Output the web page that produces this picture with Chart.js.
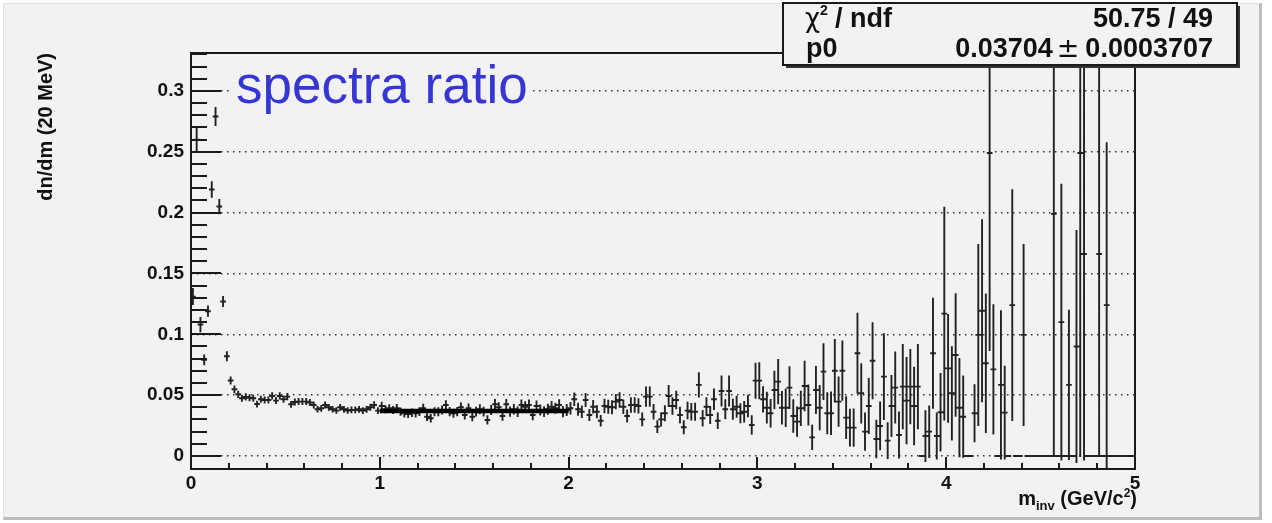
<!DOCTYPE html>
<html>
<head>
<meta charset="utf-8">
<title>spectra ratio</title>
<script src="https://cdn.jsdelivr.net/npm/chart.js@4.4.1/dist/chart.umd.min.js"></script>
<style>
  html, body { margin: 0; padding: 0; background: #ffffff; }
  #pad {
    position: absolute; left: 3px; top: 3px; width: 1259px; height: 517px; box-sizing: border-box;
    background: #f2f2f2; border-top: 1px solid #e0e0e0; border-left: 1px solid #e0e0e0;
    border-right: 3px solid #bcbcbc; border-bottom: 3px solid #bcbcbc;
  }
  #ratio { position: absolute; left: 0; top: 0; }
</style>
</head>
<body>
<div id="pad"></div>
<canvas id="ratio" width="1272" height="523"></canvas>
<script>
// 20 MeV bins from 0 to 5 GeV/c^2
const binStart = 0;
const binWidth = 0.02;

const ratio0to1 = [
  0.131, 0.26, 0.108, 0.079, 0.119, 0.219, 0.279, 0.205, 0.127, 0.082,
  0.062, 0.0548, 0.0507, 0.0474, 0.0485, 0.0479, 0.0474, 0.0427, 0.0466, 0.046,
  0.046, 0.0493, 0.0455, 0.0493, 0.0466, 0.0488, 0.0425, 0.0444, 0.0447, 0.0447,
  0.0447, 0.044, 0.0419, 0.0384, 0.0392, 0.0419, 0.04, 0.0384, 0.0373, 0.04,
  0.0384, 0.0373, 0.0378, 0.0378, 0.0384, 0.0373, 0.0384, 0.04, 0.0419, 0.0373
];
const err0to1 = [
  0.0062, 0.0103, 0.0055, 0.0037, 0.0038, 0.006, 0.0071, 0.0055, 0.0038, 0.0033,
  0.0025, 0.0024, 0.0022, 0.0021, 0.0022, 0.0021, 0.0021, 0.002, 0.0021, 0.0021,
  0.0021, 0.0022, 0.0021, 0.0022, 0.0021, 0.0022, 0.002, 0.0021, 0.0021, 0.0021,
  0.0021, 0.0021, 0.002, 0.0019, 0.002, 0.002, 0.002, 0.0019, 0.0019, 0.002,
  0.002, 0.0019, 0.002, 0.002, 0.002, 0.002, 0.002, 0.0021, 0.0022, 0.002
];
const ratio1to2 = [
  0.0411, 0.0384, 0.0392, 0.0378, 0.0392, 0.0364, 0.0351, 0.0345, 0.0356, 0.0351,
  0.0364, 0.0392, 0.0323, 0.031, 0.0364, 0.0364, 0.0378, 0.0419, 0.0364, 0.0351,
  0.0364, 0.04, 0.0337, 0.0392, 0.0323, 0.0364, 0.0384, 0.0364, 0.0296, 0.0378,
  0.0425, 0.04, 0.0329, 0.0425, 0.0364, 0.0384, 0.0364, 0.0419, 0.0405, 0.0419,
  0.0337, 0.0411, 0.0378, 0.0364, 0.0384, 0.0405, 0.0392, 0.0419, 0.0364, 0.0378
];
const err1to2 = [
  0.0026, 0.0025, 0.0026, 0.0026, 0.0027, 0.0026, 0.0026, 0.0026, 0.0027, 0.0027,
  0.0028, 0.0029, 0.0027, 0.0027, 0.0029, 0.0029, 0.003, 0.0031, 0.003, 0.003,
  0.003, 0.0032, 0.003, 0.0032, 0.003, 0.0032, 0.0033, 0.0032, 0.003, 0.0033,
  0.0035, 0.0034, 0.0032, 0.0036, 0.0034, 0.0035, 0.0035, 0.0037, 0.0036, 0.0037,
  0.0035, 0.0037, 0.0037, 0.0036, 0.0038, 0.0039, 0.0038, 0.004, 0.0038, 0.0042
];
const ratio2to3 = [
  0.0392, 0.0466, 0.0384, 0.0364, 0.046, 0.0337, 0.0405, 0.0364, 0.029, 0.0411,
  0.0405, 0.04, 0.0447, 0.046, 0.0405, 0.0329, 0.0419, 0.0419, 0.0411, 0.0301,
  0.0488, 0.0488, 0.0364, 0.0241, 0.0301, 0.0351, 0.0493, 0.0411, 0.046, 0.0337,
  0.0236, 0.0373, 0.0364, 0.0364, 0.0584, 0.031, 0.0405, 0.0337, 0.0466, 0.029,
  0.0534, 0.0384, 0.0534, 0.0384, 0.0405, 0.0351, 0.0364, 0.0411, 0.0255, 0.0619
];
const err2to3 = [
  0.0044, 0.0048, 0.0045, 0.0044, 0.005, 0.0042, 0.0048, 0.0046, 0.004, 0.0052,
  0.005, 0.005, 0.0055, 0.0056, 0.0052, 0.0046, 0.0055, 0.0056, 0.0055, 0.0048,
  0.0075, 0.0075, 0.0056, 0.0045, 0.005, 0.0058, 0.0082, 0.0064, 0.0068, 0.006,
  0.005, 0.0064, 0.0064, 0.0066, 0.0096, 0.006, 0.007, 0.0066, 0.008, 0.006,
  0.012, 0.0075, 0.012, 0.0078, 0.0082, 0.0075, 0.008, 0.0085, 0.0072, 0.014
];
const ratio3to4 = [
  0.0619, 0.0466, 0.0397, 0.0351, 0.0542, 0.0611, 0.0397, 0.0397, 0.0562, 0.0329,
  0.0282, 0.0392, 0.0575, 0.0419, 0.0153, 0.0542, 0.0397, 0.0693, 0.0351, 0.0351,
  0.0701, 0.0447, 0.0701, 0.0315, 0.0233, 0.0233, 0.0844, 0.0515, 0.02, 0.0411,
  0.0783, 0.014, 0.0247, 0.0652, 0.0126, 0.0411, 0.0562, 0.0173, 0.057, 0.0455,
  0.057, 0.0411, 0.057, 0, 0.0164, 0.02, 0.0844, 0.0164, 0.0359, 0.117
];
const err3to4 = [
  0.0144, 0.01, 0.0123, 0.011, 0.015, 0.0178, 0.013, 0.015, 0.0168, 0.013,
  0.0116, 0.0137, 0.0199, 0.016, 0.0096, 0.0189, 0.0178, 0.0226, 0.0164, 0.0171,
  0.0253, 0.0199, 0.024, 0.0168, 0.0147, 0.015, 0.0325, 0.024, 0.015, 0.0223,
  0.0308, 0.015, 0.0192, 0.0349, 0.0144, 0.0247, 0.0288, 0.0185, 0.0342, 0.035,
  0.0301, 0.0315, 0.0342, 0, 0.0205, 0.0208, 0.0448, 0.0185, 0.0315, 0.087
];
const ratio4to5 = [
  0.072, 0.0515, 0.083, 0.0397, 0.0323, 0, 0, 0.0351, 0.0995, 0.1194,
  0.0762, 0.249, 0.0712, 0, 0.0584, 0.0356, 0, 0.124, 0, 0,
  0.0995, 0, 0, 0, 0, 0, 0, 0, 0.199, 0,
  0.11, 0, 0.0584, 0, 0.09, 0.249, 0.166, 0, 0, 0,
  0.166, 0, 0.124, 0, 0, 0, 0, 0, 0, 0
];
const err4to5 = [
  0.044, 0.038, 0.05, 0.04, 0.033, 0, 0, 0.023, 0.074, 0.0744,
  0.0566, 0.162, 0.0527, 0, 0.0606, 0.0377, 0, 0.0945, 0, 0,
  0.074, 0, 0, 0, 0, 0, 0, 0, 0.199, 0,
  0.113, 0, 0.061, 0, 0.095, 0.249, 0.169, 0, 0, 0,
  0.166, 0, 0.133, 0, 0, 0, 0, 0, 0, 0
];

// pol0 fit between 1 and 2 GeV/c^2
const fitRange = [1, 2];
const fitP0 = 0.03704;

const xTickValues = [0, 1, 2, 3, 4, 5];
const xTickLabels = ['0', '1', '2', '3', '4', '5'];
const xMinorTicks = [0.2, 0.4, 0.6, 0.8, 1.2, 1.4, 1.6, 1.8, 2.2, 2.4, 2.6, 2.8,
  3.2, 3.4, 3.6, 3.8, 4.2, 4.4, 4.6, 4.8];
const yTickValues = [0, 0.05, 0.1, 0.15, 0.2, 0.25, 0.3];
const yTickLabels = ['0', '0.05', '0.1', '0.15', '0.2', '0.25', '0.3'];
const yMinorTicks = [0.01, 0.02, 0.03, 0.04, 0.06, 0.07, 0.08, 0.09, 0.11, 0.12, 0.13, 0.14,
  0.16, 0.17, 0.18, 0.19, 0.21, 0.22, 0.23, 0.24, 0.26, 0.27, 0.28, 0.29, 0.31, 0.32, 0.33];

const ratio = [].concat(ratio0to1, ratio1to2, ratio2to3, ratio3to4, ratio4to5);
const ratioErr = [].concat(err0to1, err1to2, err2to3, err3to4, err4to5);

// each bin: horizontal bar over the bin width, vertical bar for the error
const barPoints = [];
ratio.forEach((v, i) => {
  const lo = binStart + i * binWidth;
  const mid = lo + binWidth / 2;
  barPoints.push({ x: lo, y: v }, { x: lo + binWidth, y: v }, { x: mid, y: null });
  if (ratioErr[i] > 0) {
    barPoints.push({ x: mid, y: v - ratioErr[i] }, { x: mid, y: v + ratioErr[i] }, { x: mid, y: null });
  }
});

const FONT = '"Liberation Sans", Arial, Helvetica, sans-serif';
Chart.defaults.font.family = FONT;

const rootFrame = {
  id: 'rootFrame',
  afterDatasetsDraw(chart) {
    const { ctx, chartArea: a, scales: { x, y } } = chart;
    ctx.save();
    ctx.strokeStyle = '#1a1a1a';
    ctx.lineWidth = 2;
    ctx.beginPath();
    yTickValues.forEach(v => {
      const py = Math.round(y.getPixelForValue(v));
      ctx.moveTo(a.left, py); ctx.lineTo(a.left + 30, py);
    });
    yMinorTicks.forEach(v => {
      const py = Math.round(y.getPixelForValue(v));
      ctx.moveTo(a.left, py); ctx.lineTo(a.left + 16, py);
    });
    xTickValues.forEach(v => {
      const px = Math.round(x.getPixelForValue(v));
      ctx.moveTo(px, a.bottom); ctx.lineTo(px, a.bottom - 12);
    });
    xMinorTicks.forEach(v => {
      const px = Math.round(x.getPixelForValue(v));
      ctx.moveTo(px, a.bottom); ctx.lineTo(px, a.bottom - 6);
    });
    ctx.stroke();
    ctx.strokeRect(a.left, a.top, a.right - a.left, a.bottom - a.top);
    ctx.restore();
  },
  afterDraw(chart) {
    const { ctx } = chart;
    ctx.save();

    // title text
    ctx.font = '53px ' + FONT;
    const title = 'spectra ratio';
    const tw = ctx.measureText(title).width;
    ctx.fillStyle = '#f2f2f2';
    ctx.fillRect(233, 70, tw + 6, 44);
    ctx.fillStyle = '#3636d2';
    ctx.textBaseline = 'alphabetic';
    ctx.fillText(title, 236, 103);

    // x axis title m_inv (GeV/c^2), right aligned
    ctx.fillStyle = '#111';
    const parts = [
      ['m', 20, 0], ['inv', 13, 5], [' (GeV/c', 20, 0], ['2', 12, -8], [')', 20, 0]
    ];
    let total = 0;
    parts.forEach(p => { ctx.font = 'bold ' + p[1] + 'px ' + FONT; total += ctx.measureText(p[0]).width; });
    let px = 1137 - total;
    parts.forEach(p => {
      ctx.font = 'bold ' + p[1] + 'px ' + FONT;
      ctx.fillText(p[0], px, 505 + p[2]);
      px += ctx.measureText(p[0]).width;
    });

    // fit statistics box
    ctx.fillStyle = '#333';
    ctx.fillRect(786, 6, 454, 62);
    ctx.fillStyle = '#f2f2f2';
    ctx.fillRect(783, 3, 454, 62);
    ctx.strokeStyle = '#1a1a1a';
    ctx.lineWidth = 2;
    ctx.strokeRect(783, 3, 454, 62);

    ctx.fillStyle = '#111';
    ctx.textAlign = 'left';
    ctx.font = '26px "DejaVu Sans", sans-serif';
    ctx.fillText('χ', 805, 27);
    ctx.font = 'bold 14px ' + FONT;
    ctx.fillText('2', 820, 15);
    ctx.font = 'bold 27px ' + FONT;
    ctx.fillText('/ ndf', 835, 27);
    ctx.fillText('p0', 806, 57);

    ctx.textAlign = 'right';
    ctx.fillText('50.75 / 49', 1213, 27);
    const errText = '0.0003707';
    ctx.fillText(errText, 1213, 57);
    const ew = ctx.measureText(errText).width;
    ctx.font = '27px "DejaVu Sans", sans-serif';
    ctx.fillText('±', 1213 - ew - 6, 57);
    const pw = ctx.measureText('±').width;
    ctx.font = 'bold 27px ' + FONT;
    ctx.fillText('0.03704', 1213 - ew - 6 - pw - 4, 57);
    ctx.restore();
  }
};

new Chart(document.getElementById('ratio'), {
  type: 'scatter',
  data: {
    datasets: [
      {
        label: 'pol0 fit',
        data: fitRange.map(v => ({ x: v, y: fitP0 })),
        showLine: true,
        borderColor: '#000',
        borderWidth: 4.5,
        pointRadius: 0
      },
      {
        label: 'ratio',
        data: barPoints,
        showLine: true,
        spanGaps: false,
        borderColor: '#222',
        borderWidth: 1.9,
        borderCapStyle: 'square',
        pointRadius: 0
      }
    ]
  },
  options: {
    responsive: false,
    animation: false,
    devicePixelRatio: 1,
    events: [],
    layout: { padding: { left: 0, top: 53, right: 137, bottom: 0 } },
    plugins: { legend: { display: false }, tooltip: { enabled: false } },
    scales: {
      x: {
        type: 'linear',
        min: 0,
        max: 5,
        afterBuildTicks: axis => { axis.ticks = xTickValues.map(v => ({ value: v })); },
        afterFit: axis => { axis.height = 54; },
        grid: { display: false },
        border: { display: false },
        ticks: {
          callback: (v, i) => xTickLabels[i],
          font: { size: 19, weight: 'bold' },
          color: '#111',
          padding: -5,
          maxRotation: 0,
          autoSkip: false
        }
      },
      y: {
        type: 'linear',
        min: -0.0107,
        max: 0.3312,
        afterBuildTicks: axis => { axis.ticks = yTickValues.map(v => ({ value: v })); },
        afterFit: axis => { axis.width = 191; },
        grid: { color: '#333', lineWidth: 1.5, drawTicks: false },
        border: { display: false, dash: [1.5, 4.5] },
        ticks: {
          callback: (v, i) => yTickLabels[i],
          font: { size: 19, weight: 'bold' },
          color: '#111',
          padding: 7,
          autoSkip: false
        },
        title: {
          display: true,
          text: 'dn/dm (20 MeV)',
          align: 'end',
          color: '#111',
          font: { size: 20, weight: 'bold' },
          padding: { top: 34, bottom: 0 }
        }
      }
    }
  },
  plugins: [rootFrame]
});
</script>
</body>
</html>
